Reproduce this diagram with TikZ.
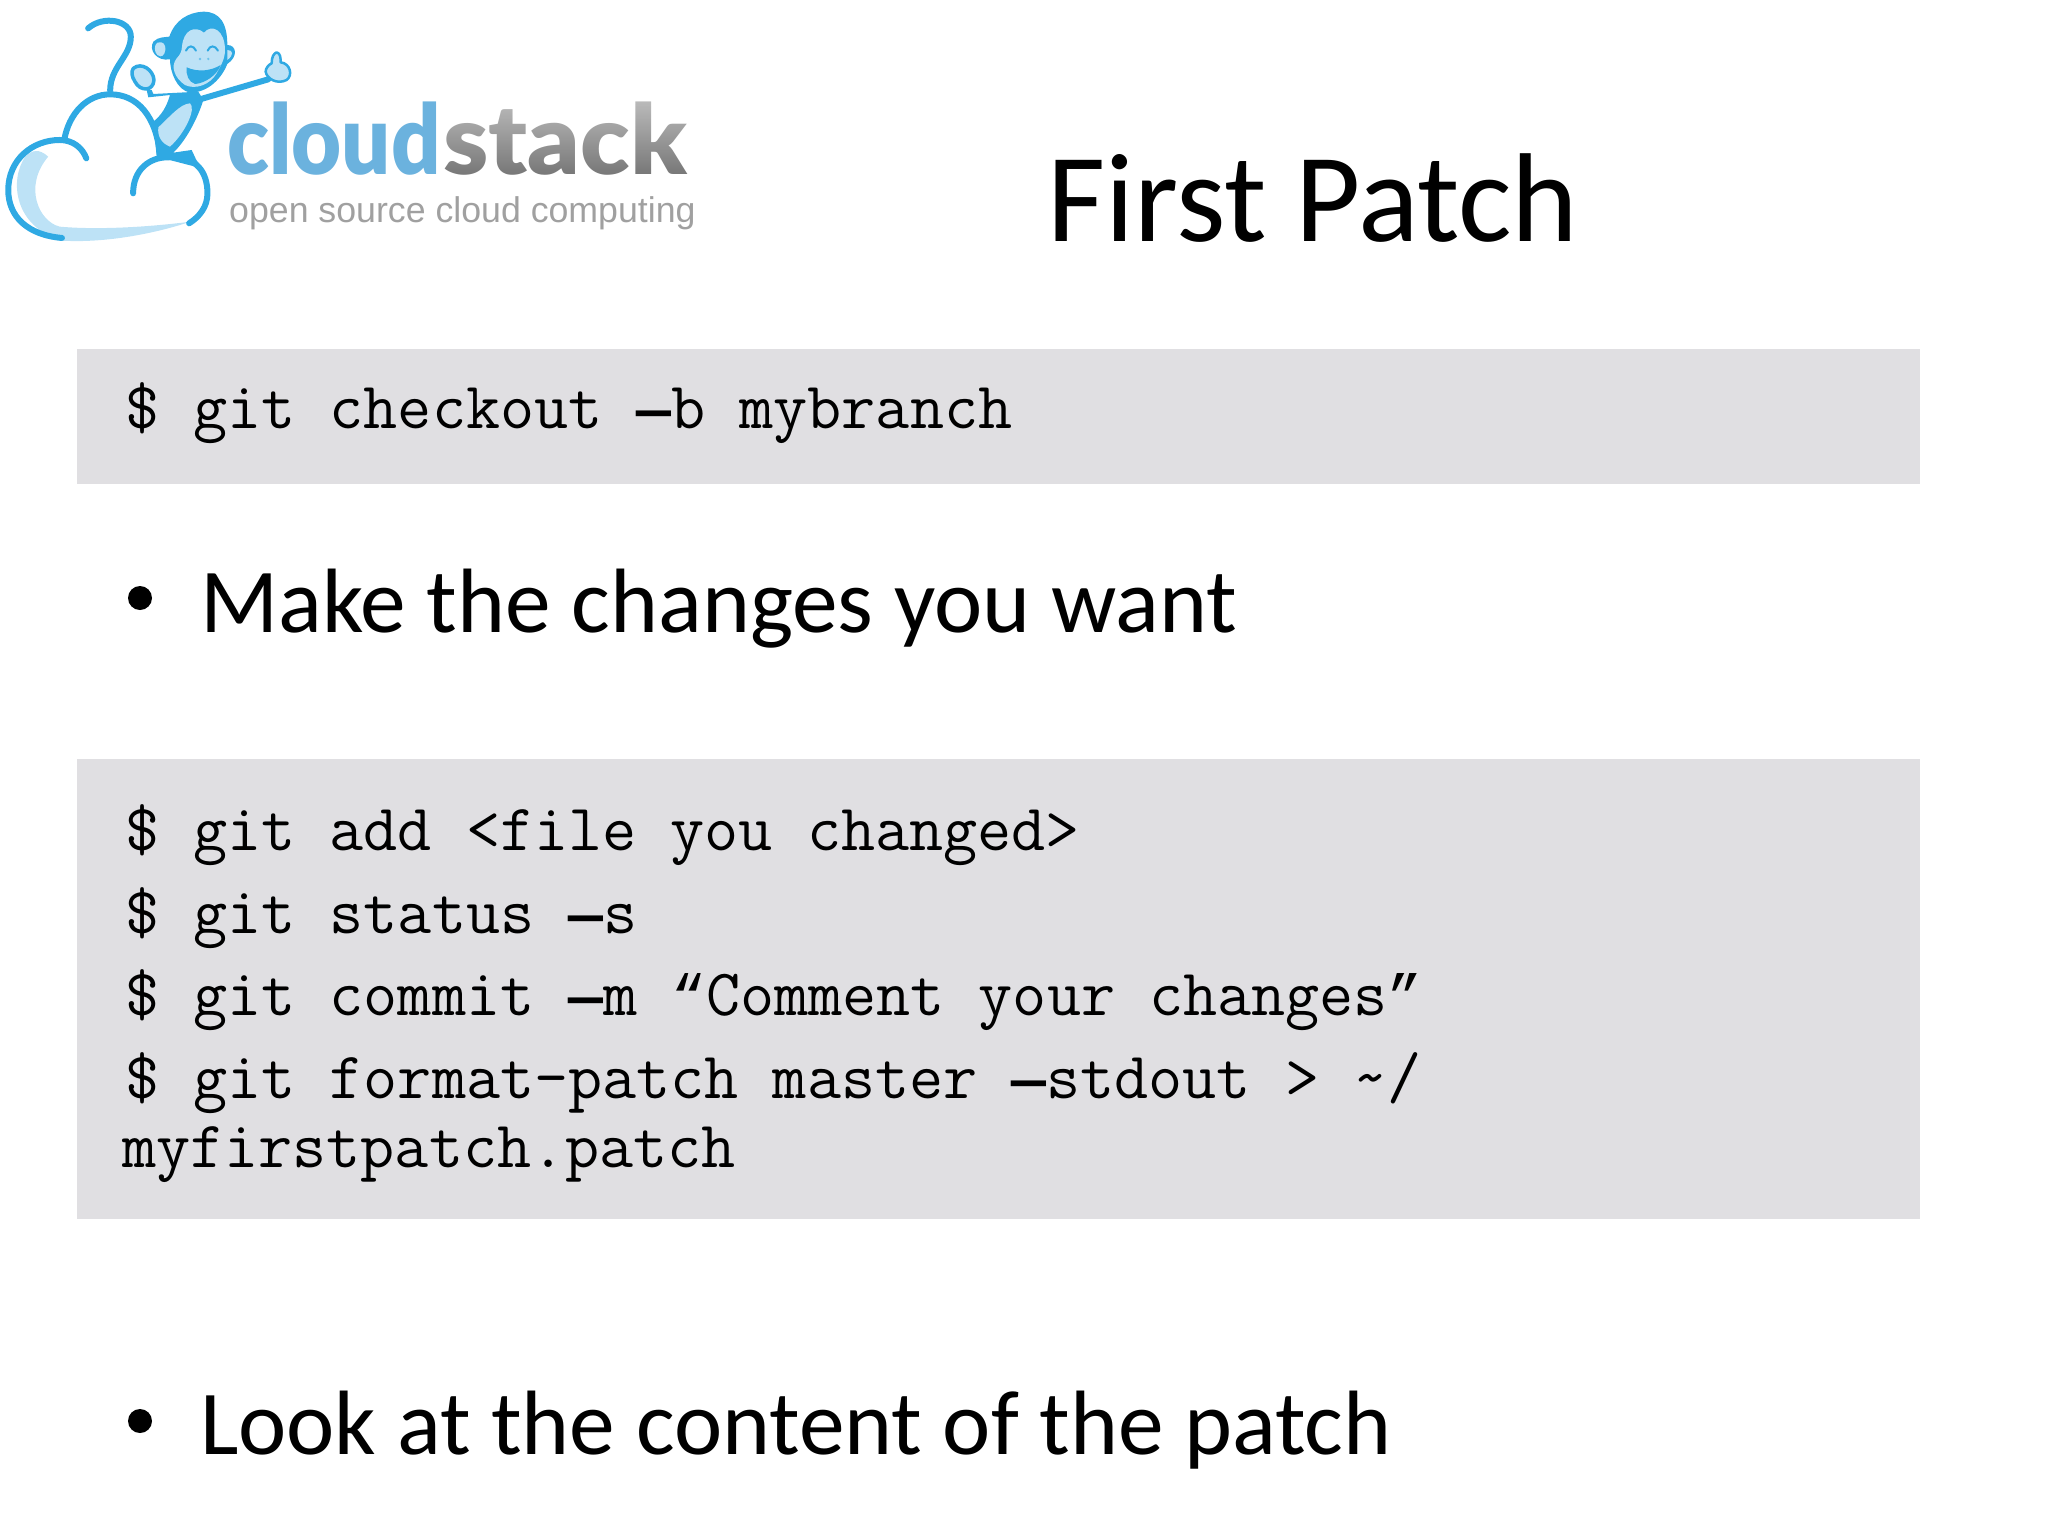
\documentclass[tikz,border=0pt]{standalone}
\usepackage{fontspec}
\usetikzlibrary{fadings}
\setmainfont{Carlito}
\newfontfamily\logobold{Lato Black}
\newfontfamily\logothin{Liberation Sans}
\newfontfamily\codemark{Liberation Mono}[Scale=0.875]
\newcommand{\cdash}{{\codemark\bfseries —}}
\definecolor{codegray}{HTML}{E0DFE2}
\definecolor{logoblue}{HTML}{2FA9E3}
\definecolor{logopale}{HTML}{BDE2F6}
\definecolor{logocloud}{HTML}{6BB2DE}
\definecolor{logostack}{HTML}{737373}
\definecolor{logosub}{HTML}{A0A0A0}
\tikzset{
	codebox/.style = {fill=codegray, draw=none},
	codeline/.style = {anchor=base west, inner sep=0pt, text=black,
		font=\fontsize{66.2}{70}\selectfont\ttfamily},
	titletext/.style = {anchor=base west, inner sep=0pt,
		font=\fontsize{126.5}{130}\selectfont},
	bullettext/.style = {anchor=base west, inner sep=0pt,
		font=\fontsize{91.4}{100}\selectfont},
	bulletdot/.style = {circle, fill=black, inner sep=0pt, minimum size=24pt},
	logoline/.style = {draw=logoblue, line width=6pt, line cap=round, line join=round},
	logofill/.style = {fill=logopale, draw=none},
	logoring/.style = {fill=logopale, draw=logoblue, line join=round},
	logoword/.style = {anchor=base west, inner sep=0pt, transform shape,
		font=\fontsize{97}{100}\selectfont\logobold},
	logosmall/.style = {anchor=base west, inner sep=0pt, text=logosub,
		font=\fontsize{35.7}{40}\selectfont\logothin}
}

\begin{document}
\begin{tikzpicture}[x=1pt,y=-1pt]
	\useasboundingbox (0,0) rectangle (2048,1536);
	% cloud and tail
	\begin{scope}[x=0.459pt,y=-0.3333pt]
		\path[logofill] (55,470) .. controls (20,540) and (30,680) .. (135,722)
			.. controls (230,730) and (340,700) .. (415,665)
			.. controls (320,682) and (210,690) .. (130,680)
			.. controls (85,665) and (50,560) .. (105,470)
			.. controls (85,445) and (70,450) .. (55,470) -- cycle;
		\draw[logoline] (135,714) .. controls (60,705) and (18,650) .. (18,570)
			.. controls (18,480) and (70,420) .. (130,420)
			.. controls (160,420) and (180,445) .. (188,475);
		\draw[logoline] (140,420) .. controls (150,340) and (190,283) .. (240,283)
			.. controls (300,283) and (340,350) .. (348,460);
		\draw[logoline] (290,580) .. controls (290,510) and (325,472) .. (365,472)
			.. controls (430,465) and (452,520) .. (452,580)
			.. controls (452,620) and (435,650) .. (412,670);
		\draw[logoline] (240,272) .. controls (240,200) and (285,170) .. (285,110)
			.. controls (285,60) and (225,45) .. (192,85);
	\end{scope}
	% monkey
	\begin{scope}[shift={(120,0)},x=0.3333pt,y=-0.3333pt]
		\path[fill=logoblue] (100,365) .. controls (125,345) and (140,320) .. (150,285)
			-- (85,292) -- (80,270) -- (95,270) -- (100,282) -- (235,275) -- (250,300)
			.. controls (235,350) and (200,420) .. (160,458)
			-- (215,450) -- (228,478) -- (245,505) -- (110,470) -- cycle;
		\draw[logoblue, line width=6pt, line cap=round] (240,298) -- (445,238);
		\path[logofill] (115,382) .. controls (150,350) and (180,312) .. (210,310)
			.. controls (230,325) and (195,400) .. (150,440)
			.. controls (125,430) and (112,410) .. (115,382) -- cycle;
		\path[logoring, line width=3.5pt] (40,205) .. controls (65,185) and (100,210) .. (102,240)
			.. controls (100,275) and (60,275) .. (45,245)
			.. controls (35,230) and (33,215) .. (40,205) -- cycle;
		\path[logoring, line width=2.5pt] (455,190) .. controls (455,170) and (462,160) .. (470,157)
			.. controls (482,160) and (482,175) .. (482,187)
			.. controls (510,190) and (520,225) .. (500,240)
			.. controls (470,255) and (440,235) .. (437,215)
			.. controls (437,205) and (445,195) .. (455,190) -- cycle;
		% head
		\path[fill=logoblue] (148,110) .. controls (165,60) and (205,37) .. (250,35)
			.. controls (300,35) and (322,70) .. (322,135)
			.. controls (350,135) and (355,170) .. (322,192)
			.. controls (305,235) and (265,278) .. (210,278)
			.. controls (170,270) and (150,215) .. (150,178)
			.. controls (110,185) and (85,150) .. (100,125)
			.. controls (115,110) and (135,112) .. (148,110) -- cycle;
		\path[logofill] (186,140) .. controls (190,90) and (225,75) .. (252,98)
			.. controls (275,70) and (315,90) .. (315,150)
			.. controls (315,180) and (300,200) .. (290,220)
			.. controls (270,255) and (225,270) .. (195,255)
			.. controls (165,235) and (150,200) .. (170,175)
			.. controls (180,165) and (185,155) .. (186,140) -- cycle;
		\path[logofill] (112,128) .. controls (130,122) and (138,135) .. (136,150)
			.. controls (134,165) and (125,175) .. (112,165)
			.. controls (102,155) and (102,135) .. (112,128) -- cycle;
		\path[logofill] (322,150) .. controls (340,150) and (342,165) .. (322,180) -- cycle;
		% mouth
		\path[fill=logoblue] (200,202) .. controls (235,218) and (275,212) .. (302,195)
			.. controls (292,225) and (255,250) .. (225,252)
			.. controls (205,245) and (198,225) .. (200,202) -- cycle;
		% eyes, nose
		\draw[logoblue, line width=2pt, line cap=round] (198,152) .. controls (205,135) and (220,135) .. (228,152);
		\draw[logoblue, line width=2pt, line cap=round] (263,152) .. controls (270,135) and (285,135) .. (294,152);
		\path[fill=logoblue!70!white] (240,177) circle (4) (265,177) circle (4);
	\end{scope}
	\node[logoword, text=logocloud, xscale=0.89] (cloudword) at (227,175) {cloud};
	\node[logoword, text=logostack, xscale=1.05] (stackword) at (443,175) {stack};
	\fill[white, opacity=0.55, path fading=south] (440,95) rectangle (700,180);
	\node[logosmall] (tagline) at (229,222) {open source cloud computing};
	% slide
	\node[titletext] (title) at (1047,241) {First Patch};
	\path[codebox] (77,349) rectangle (1920,484);
	\node[codeline] (checkout) at (125,428) {\$ git checkout \cdash b mybranch};
	\node[bulletdot] (dotchanges) at (140,598) {};
	\node[bullettext] (changes) at (200,632) {Make the changes you want};
	\path[codebox] (77,759) rectangle (1920,1219);
	\node[codeline] (gitadd) at (125,850) {\$ git add <file you changed>};
	\node[codeline] (gitstatus) at (125,933) {\$ git status \cdash s};
	\node[codeline] (gitcommit) at (125,1015) {\$ git commit \cdash m {\codemark “}Comment your changes{\codemark ”}};
	\node[codeline] (gitformat) at (125,1098) {\$ git format-patch master \cdash stdout > \textasciitilde/};
	\node[codeline] (patchfile) at (122,1167) {myfirstpatch.patch};
	\node[bulletdot] (dotcontent) at (140,1421) {};
	\node[bullettext] (content) at (200,1454) {Look at the content of the patch};
\end{tikzpicture}
\end{document}
